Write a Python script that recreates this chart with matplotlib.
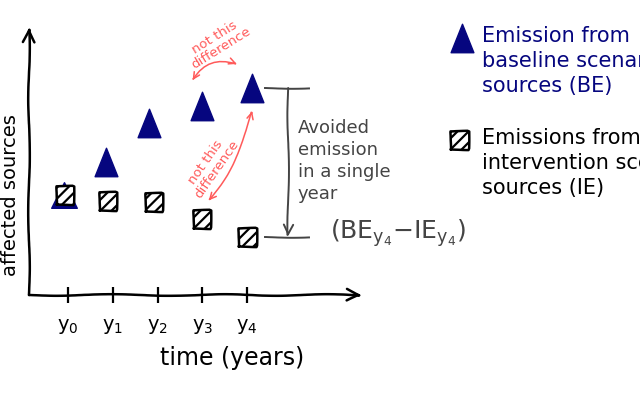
import matplotlib

matplotlib.use("Agg")
import matplotlib.pyplot as plt  # noqa: E402
from matplotlib.path import Path  # noqa: E402

# years on the time axis
years = [0, 1, 2, 3, 4]
year_labels = [r"$\mathrm{y}_0$", r"$\mathrm{y}_1$", r"$\mathrm{y}_2$",
               r"$\mathrm{y}_3$", r"$\mathrm{y}_4$"]

# baseline scenario emissions (BE), hand placed so a bit off the ticks
be_x = [-0.08, 0.85, 1.81, 2.99, 4.11]
be_y = [10.0, 13.3, 17.2, 18.9, 20.7]

# intervention scenario emissions (IE)
ie_x = [-0.08, 0.89, 1.90, 2.99, 4.0]
ie_y = [10.0, 9.4, 9.3, 7.6, 5.8]

NAVY = "#06067f"
RED = "#ff5a5a"
GREY = "#444444"

plt.xkcd(scale=0.8, length=120, randomness=2)
plt.rcParams["font.family"] = ["DejaVu Sans"]
plt.rcParams["path.effects"] = []
plt.rcParams["hatch.linewidth"] = 1.6

# taller-than-wide triangle, like the sketch
tri = Path([(0, 1), (-0.8, -1), (0.8, -1), (0, 1)],
           [Path.MOVETO, Path.LINETO, Path.LINETO, Path.CLOSEPOLY])

fig = plt.figure(figsize=(6.4, 4.0), dpi=100)
ax = fig.add_axes([29 / 640, 1 - 295 / 400, 333 / 640, 268 / 400])
ax.set_xlim(-0.872, 6.57)
ax.set_ylim(0, 26.8)

for s in ax.spines.values():
    s.set_visible(False)
ax.annotate("", xy=(1, 0), xytext=(0, 0), xycoords="axes fraction",
            arrowprops=dict(arrowstyle="->", lw=1.8, color="black",
                            mutation_scale=22, shrinkA=0, shrinkB=0))
ax.annotate("", xy=(0, 1), xytext=(0, 0), xycoords="axes fraction",
            arrowprops=dict(arrowstyle="->", lw=1.8, color="black",
                            mutation_scale=22, shrinkA=0, shrinkB=0))

ax.set_xticks(years)
ax.set_xticklabels(year_labels, fontsize=14)
ax.tick_params(axis="x", direction="inout", length=11, width=1.6, pad=10)
ax.set_yticks([])

# markers (y0 triangle sits mostly behind its square)
ax.scatter(be_x[:1], be_y[:1], marker="^", s=340, color=NAVY, zorder=3,
           clip_on=False)
ax.scatter(be_x[1:], be_y[1:], marker=tri, s=420, color=NAVY, zorder=3,
           clip_on=False)
ax.scatter(ie_x, ie_y, marker="s", s=150, facecolor="white",
           edgecolor="black", hatch="///", linewidths=1.8, zorder=4)

# avoided emission bracket at y4
bx0, bx1, bxm = 4.40, 5.39, 4.92
ax.plot([bx0, bx1], [be_y[4], be_y[4]], color=GREY, lw=1.4)
ax.plot([bx0, bx1], [ie_y[4], ie_y[4]], color=GREY, lw=1.4)
ax.annotate("", xy=(bxm, ie_y[4]), xytext=(bxm, be_y[4]),
            arrowprops=dict(arrowstyle="->", lw=1.4, color=GREY,
                            mutation_scale=18, shrinkA=0, shrinkB=0))
ax.text(5.14, 13.4, "Avoided\nemission\nin a single\nyear", color=GREY,
        fontsize=13, ha="left", va="center", linespacing=1.3)
ax.text(5.85, 6.2, r"(BE$_{\mathrm{y}_4}$$-$IE$_{\mathrm{y}_4}$)",
        color=GREY, fontsize=18, ha="left", va="center")

# "not this difference" notes
ax.annotate("", xy=(3.84, 23.0), xytext=(2.75, 21.2),
            arrowprops=dict(arrowstyle="<->", lw=1.1, color=RED,
                            mutation_scale=12,
                            connectionstyle="arc3,rad=-0.45"))
ax.text(3.35, 25.2, "not this\ndifference", color=RED, fontsize=9.5,
        rotation=32, ha="center", va="center", linespacing=0.95)
ax.annotate("", xy=(4.13, 18.7), xytext=(3.10, 9.2),
            arrowprops=dict(arrowstyle="<->", lw=1.1, color=RED,
                            mutation_scale=12,
                            connectionstyle="arc3,rad=0.12"))
ax.text(3.2, 12.9, "not this\ndifference", color=RED, fontsize=9.5,
        rotation=55, ha="center", va="center", linespacing=0.95)

# axis labels
fig.text(232 / 640, 1 - 358 / 400, "time (years)", fontsize=17,
         ha="center", va="center")
fig.text(11 / 640, 1 - 195 / 400, "affected sources", fontsize=14,
         rotation=90, ha="center", va="center")

# key on the right (runs off the right edge, as in the sketch)
ax.scatter([462 / 640], [1 - 38 / 400], marker=tri, s=420, color=NAVY,
           transform=fig.transFigure, clip_on=False)
fig.text(482 / 640, 1 - 61 / 400,
         "Emission from\nbaseline scenario\nsources (BE)", color=NAVY,
         fontsize=15, ha="left", va="center", linespacing=1.3)
ax.scatter([459 / 640], [1 - 140 / 400], marker="s", s=150,
           facecolor="white", edgecolor="black", hatch="///",
           linewidths=1.8, transform=fig.transFigure, clip_on=False)
fig.text(482 / 640, 1 - 163 / 400,
         "Emissions from\nintervention scenario\nsources (IE)",
         color="black", fontsize=15, ha="left", va="center",
         linespacing=1.3)

fig.savefig("out.png", dpi=100)
